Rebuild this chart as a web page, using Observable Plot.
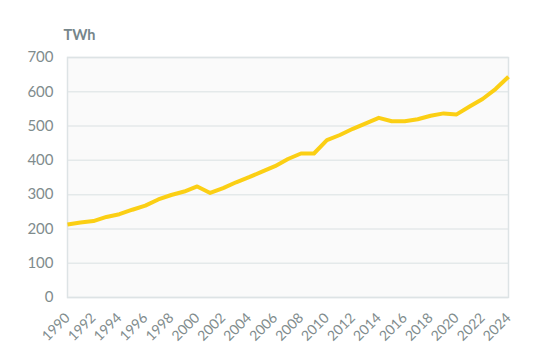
<!DOCTYPE html>
<html>
<head>
<meta charset="utf-8">
<script src="https://cdn.jsdelivr.net/npm/d3@7"></script>
<script src="https://cdn.jsdelivr.net/npm/@observablehq/plot@0.6"></script>
<style>
  html, body { margin: 0; padding: 0; background: #fff; }
  #chart { width: 546px; height: 355px; }
</style>
</head>
<body>
<div id="chart"></div>
<script>
const years = [1990,1991,1992,1993,1994,1995,1996,1997,1998,1999,2000,2001,2002,2003,2004,2005,2006,2007,2008,2009,2010,2011,2012,2013,2014,2015,2016,2017,2018,2019,2020,2021,2022,2023,2024];
const twh = [213,219,223,235,243,256,268,286,299,309,324,305,319,336,351,367,383,404,420,420,459,474,492,508,524,514,514,520,530,537,534,557,579,608,644];
const xTicks = [1990,1992,1994,1996,1998,2000,2002,2004,2006,2008,2010,2012,2014,2016,2018,2020,2022,2024];
const yTicks = [0,100,200,300,400,500,600,700];
const unitLabel = "TWh";

const data = years.map((y, i) => ({year: y, value: twh[i]}));
const font = "Lato, 'Open Sans', sans-serif";

const chart = Plot.plot({
  width: 546,
  height: 355,
  marginLeft: 67,
  marginRight: 38,
  marginTop: 57,
  marginBottom: 58,
  style: {fontFamily: font, background: "#fff", overflow: "visible"},
  x: {domain: [1990, 2024]},
  y: {domain: [0, 700]},
  marks: [
    Plot.frame({fill: "#fafafa", stroke: "none"}),
    Plot.gridY(yTicks, {stroke: "#e4e9ea", strokeOpacity: 1, strokeWidth: 1.5}),
    Plot.frame({stroke: "#dde3e5", strokeWidth: 1.5}),
    Plot.axisY(yTicks, {tickSize: 0, tickPadding: 14, fontSize: 15, fill: "#7f8c8d", label: null}),
    Plot.axisX(xTicks, {tickSize: 0, tickPadding: 18, tickRotate: -45, fontSize: 14, fill: "#7f8c8d", tickFormat: d => String(d), label: null}),
    Plot.line(data, {x: "year", y: "value", stroke: "#fbcf14", strokeWidth: 4, strokeLinejoin: "round", strokeLinecap: "butt"}),
    Plot.text([unitLabel], {frameAnchor: "top-left", text: d => d, dx: -4, dy: -18, fontSize: 14.5, fontWeight: "bold", fill: "#76868b", textAnchor: "start", lineAnchor: "bottom"})
  ]
});
document.getElementById("chart").appendChild(chart);
</script>
</body>
</html>
